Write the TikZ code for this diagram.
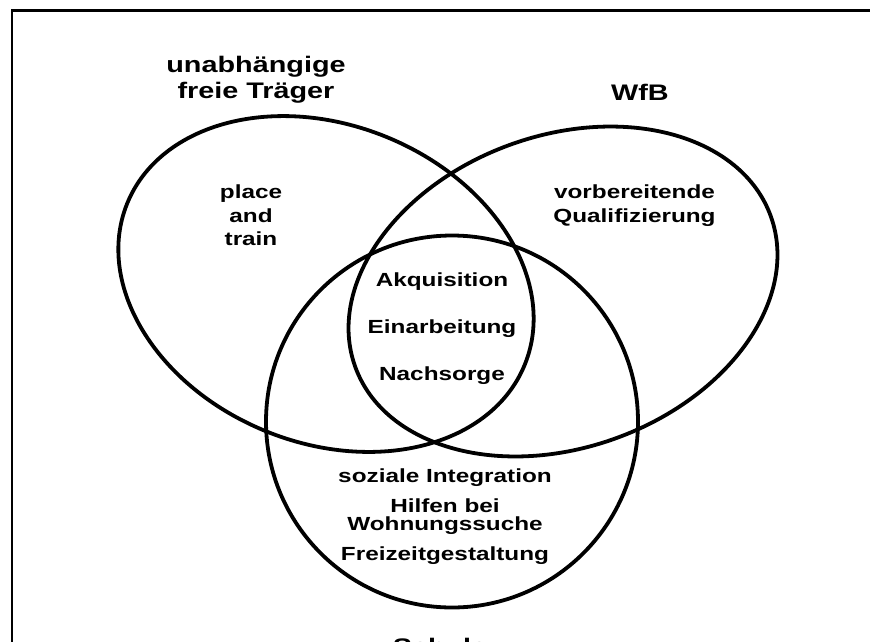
\documentclass[tikz,border=0pt]{standalone}
\usepackage{fontspec}
\setmainfont{Liberation Sans}[FakeStretch=1.28]
\begin{document}
\begin{tikzpicture}[x=1pt,y=-1pt,
  setline/.style={line width=3.8pt},
  frameline/.style={line width=2.6pt},
  lbl/.style={anchor=base,inner sep=0pt,font=\fontsize{19}{23}\selectfont\bfseries},
  ttl/.style={anchor=base,inner sep=0pt,font=\fontsize{22.5}{26}\selectfont\bfseries}]
\useasboundingbox (0,0) rectangle (870,641);
\clip (0,0) rectangle (870,641);
% frame
\draw[frameline] (12,645) -- (12,10.7) -- (875,10.7);
% sets
\draw[setline] (326,284) ellipse [x radius=214.5, y radius=159, rotate=-22];
\draw[setline] (563,291.5) ellipse [x radius=221, y radius=156, rotate=20];
\draw[setline] (452,421.5) circle [radius=186];
% titles
\node[ttl] (t1a) at (256,72) {unabhängige};
\node[ttl] (t1b) at (256,98) {freie Träger};
\node[ttl] (t2) at (640,100) {WfB};
\node[ttl] (t3) at (440,654) {Schule};
% left set
\node[lbl] (p1) at (251,198) {place};
\node[lbl] (p2) at (251,222) {and};
\node[lbl] (p3) at (251,245) {train};
% right set
\node[lbl] (q1) at (634.5,198) {vorbereitende};
\node[lbl] (q2) at (634.5,222) {Qualifizierung};
% centre
\node[lbl] (c1) at (442,286) {Akquisition};
\node[lbl] (c2) at (442,333) {Einarbeitung};
\node[lbl] (c3) at (442,380) {Nachsorge};
% bottom set
\node[lbl] (s1) at (445,482) {soziale Integration};
\node[lbl,align=center,font=\fontsize{19}{18}\selectfont\bfseries] (s2) at (445,530) {Hilfen bei\\Wohnungssuche};
\node[lbl] (s4) at (445,560) {Freizeitgestaltung};
\end{tikzpicture}
\end{document}
